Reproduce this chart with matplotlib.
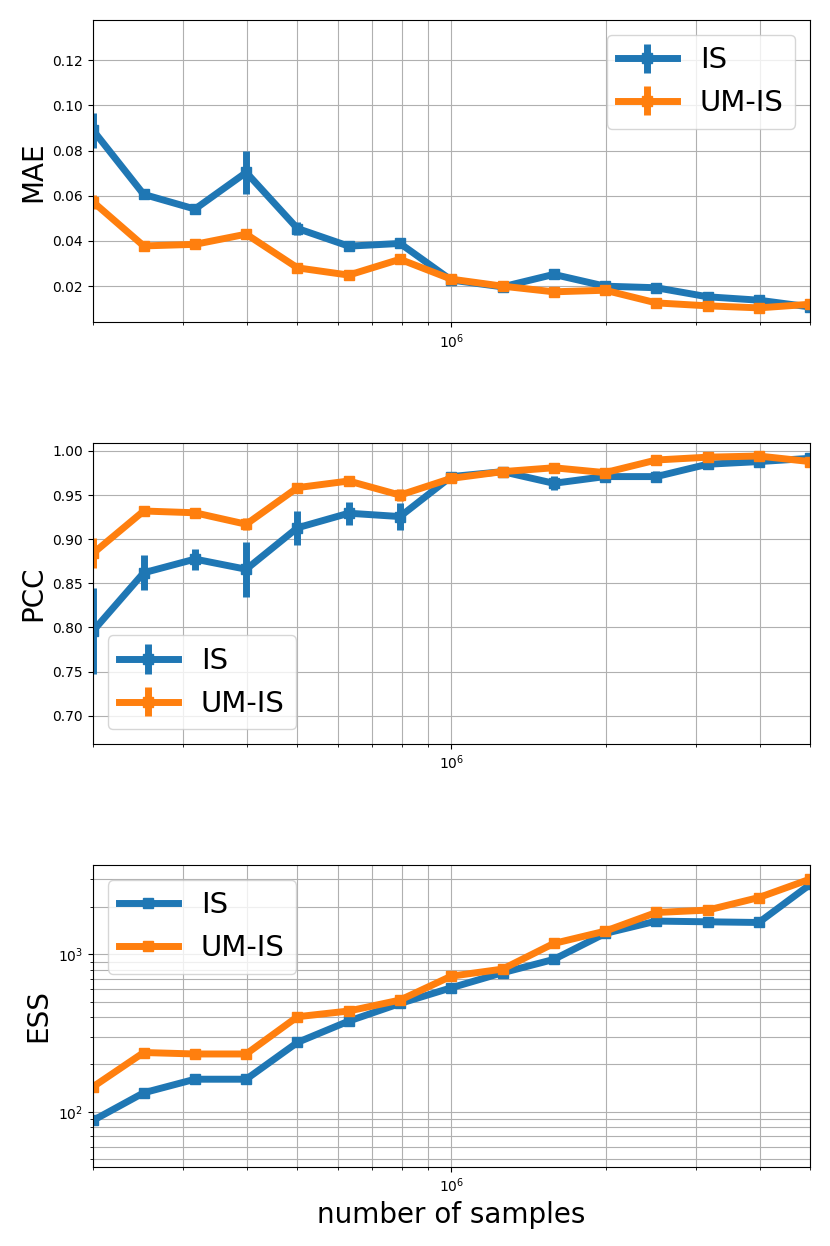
import numpy as np
import matplotlib
matplotlib.use('Agg')
import matplotlib.pyplot as plt

## sample sizes (log spaced) ##
n_samples = [200000, 251189, 316228, 398107, 501187, 630957, 794328, 1000000,
             1258925, 1584893, 1995262, 2511886, 3162278, 3981072, 5011872]

## MAE ##
mae_is = [0.089, 0.0606, 0.0541, 0.0703, 0.0455, 0.0377, 0.0389, 0.0227,
          0.0197, 0.0252, 0.0200, 0.0193, 0.0153, 0.0138, 0.0108]
mae_is_err = [0.0078, 0.002, 0.0015, 0.0096, 0.003, 0.0015, 0.0015, 0.001,
              0.001, 0.0015, 0.001, 0.001, 0.001, 0.001, 0.001]
mae_um = [0.0573, 0.0378, 0.0385, 0.0430, 0.0281, 0.0249, 0.0319, 0.0231,
          0.0200, 0.0175, 0.0182, 0.0126, 0.0113, 0.0104, 0.0120]
mae_um_err = [0.003, 0.001, 0.001, 0.0012, 0.001, 0.001, 0.0012, 0.001,
              0.001, 0.001, 0.001, 0.001, 0.001, 0.001, 0.001]

## PCC ##
pcc_is = [0.796, 0.862, 0.8775, 0.866, 0.913, 0.9295, 0.9257, 0.971,
          0.9766, 0.9634, 0.971, 0.971, 0.985, 0.988, 0.9917]
pcc_is_err = [0.049, 0.02, 0.012, 0.031, 0.019, 0.013, 0.015, 0.004,
              0.003, 0.008, 0.004, 0.006, 0.003, 0.003, 0.003]
pcc_um = [0.884, 0.932, 0.930, 0.917, 0.9585, 0.966, 0.950, 0.969,
          0.9766, 0.981, 0.9755, 0.9898, 0.993, 0.9943, 0.988]
pcc_um_err = [0.017, 0.003, 0.003, 0.007, 0.004, 0.004, 0.007, 0.003,
              0.002, 0.002, 0.003, 0.002, 0.002, 0.002, 0.003]

## ESS ##
ess_is = [88, 132, 161, 161, 276, 377, 488, 614,
          765, 930, 1360, 1630, 1613, 1597, 2786]
ess_um = [144, 238, 233, 233, 402, 437, 513, 728,
          807, 1175, 1406, 1849, 1914, 2301, 3014]

labels = ['IS', 'UM-IS']

fig = plt.figure(figsize=(8.3, 12.46), dpi=100)
ax1 = fig.add_axes([0.112, 0.7413, 0.864, 0.2426])
ax2 = fig.add_axes([0.112, 0.4029, 0.864, 0.2418])
ax3 = fig.add_axes([0.112, 0.0636, 0.864, 0.2421])

## MAE plot ##
ax1.errorbar(n_samples, mae_is, yerr=mae_is_err, marker='s', ms=7, lw=5, label=labels[0])
ax1.errorbar(n_samples, mae_um, yerr=mae_um_err, marker='s', ms=7, lw=5, label=labels[1])
ax1.set_ylim(0.004, 0.1377)
ax1.set_ylabel('MAE', fontsize=20)
ax1.legend(fontsize=21, loc='upper right')

## PCC plot ##
ax2.errorbar(n_samples, pcc_is, yerr=pcc_is_err, marker='s', ms=7, lw=5, label=labels[0])
ax2.errorbar(n_samples, pcc_um, yerr=pcc_um_err, marker='s', ms=7, lw=5, label=labels[1])
ax2.set_ylim(0.668, 1.0094)
ax2.set_ylabel('PCC', fontsize=20)
ax2.legend(fontsize=21, loc='lower left')

## ESS plot ##
ax3.plot(n_samples, ess_is, marker='s', ms=7, lw=5, label=labels[0])
ax3.plot(n_samples, ess_um, marker='s', ms=7, lw=5, label=labels[1])
ax3.set_yscale('log')
ax3.set_ylim(44.7, 3700)
ax3.set_ylabel('ESS', fontsize=20)
ax3.set_xlabel('number of samples', fontsize=20)
ax3.legend(fontsize=21, loc='upper left')

for ax in [ax1, ax2, ax3]:
    ax.set_xscale('log')
    ax.set_xlim(n_samples[0], n_samples[-1])
    ax.grid(True, which='both')

plt.savefig('out.png', dpi=100)
